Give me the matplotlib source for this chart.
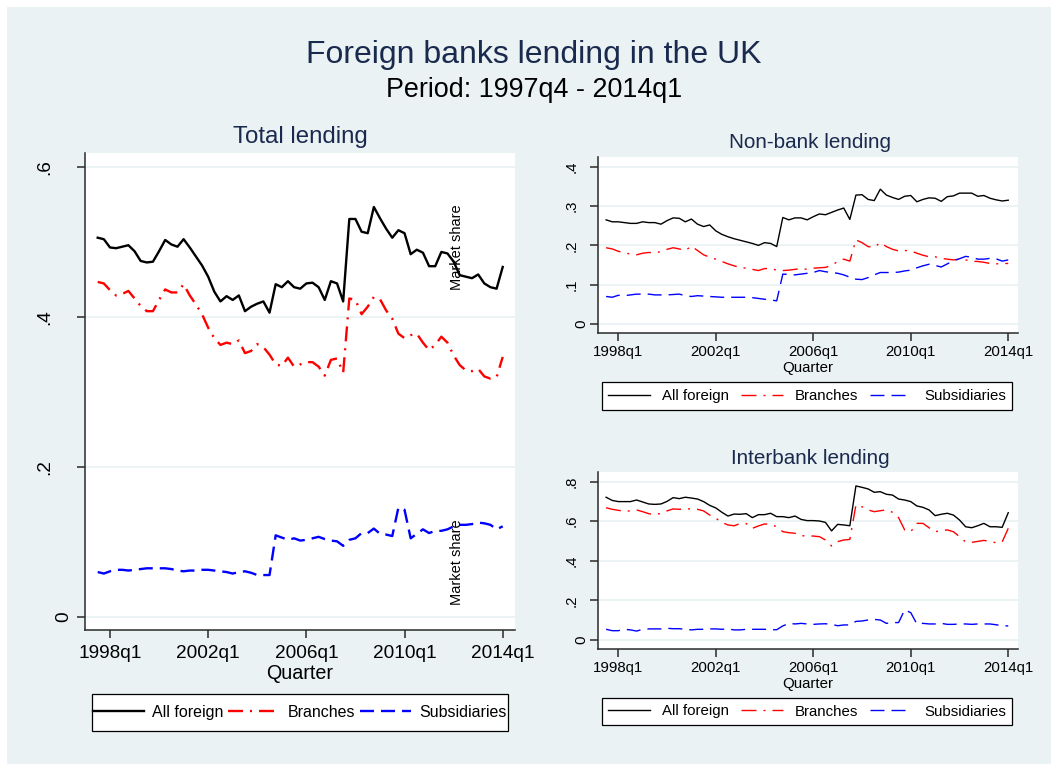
"""
Foreign banks lending in the UK: market shares of all foreign banks,
branches and subsidiaries (Stata-style graph combine layout).
"""

import matplotlib
matplotlib.use("Agg")
import matplotlib.pyplot as plt
import matplotlib.transforms as mtransforms
from matplotlib.lines import Line2D
from matplotlib.patches import Rectangle
import numpy as np

# quarters as Stata tq() numbers: 150 = 1997q3 ... 216 = 2014q1
quarter = np.arange(150, 217)
xtick_q = [152, 168, 184, 200, 216]
xtick_labels = ["1998q1", "2002q1", "2006q1", "2010q1", "2014q1"]

series_names = ["All foreign", "Branches", "Subsidiaries"]

total_all = [
    .506, .504, .493, .492, .494, .496, .488, .475, .473, .474,
    .488, .503, .497, .494, .504, .493, .481, .469, .454, .434,
    .421, .428, .423, .429, .408, .414, .418, .421, .406, .444,
    .440, .448, .440, .438, .445, .446, .440, .423, .448, .445,
    .421, .531, .531, .514, .512, .547, .532, .518, .506, .516,
    .512, .484, .490, .486, .468, .468, .487, .485, .474, .456,
    .454, .452, .457, .445, .440, .438, .467]
total_branch = [
    .447, .445, .436, .429, .431, .435, .425, .415, .408, .408,
    .423, .437, .433, .433, .444, .429, .417, .404, .386, .372,
    .363, .366, .364, .369, .352, .355, .364, .360, .350, .337,
    .335, .346, .334, .337, .340, .340, .334, .322, .343, .345,
    .326, .425, .423, .404, .414, .427, .424, .409, .398, .378,
    .372, .376, .378, .366, .356, .363, .374, .366, .349, .336,
    .329, .328, .331, .321, .318, .320, .347]
total_subs = [
    .060, .058, .061, .063, .063, .062, .063, .064, .065, .065,
    .065, .065, .064, .062, .061, .062, .062, .063, .063, .062,
    .061, .060, .058, .060, .061, .059, .056, .056, .056, .109,
    .106, .103, .105, .102, .103, .105, .107, .104, .102, .101,
    .095, .103, .105, .112, .112, .118, .111, .110, .108, .146,
    .143, .105, .111, .117, .112, .115, .115, .117, .121, .123,
    .123, .124, .126, .125, .123, .117, .121]

nonbank_all = [
    .265, .260, .260, .258, .256, .256, .260, .258, .258, .254,
    .263, .270, .269, .260, .267, .254, .248, .252, .237, .228,
    .222, .217, .213, .209, .205, .200, .207, .205, .197, .271,
    .265, .270, .270, .265, .273, .280, .278, .284, .290, .295,
    .266, .328, .329, .317, .314, .343, .328, .322, .317, .325,
    .327, .311, .317, .321, .320, .312, .324, .326, .333, .333,
    .333, .325, .327, .320, .316, .313, .315]
nonbank_branch = [
    .194, .191, .185, .181, .178, .176, .180, .182, .181, .184,
    .190, .194, .191, .187, .198, .187, .176, .170, .165, .159,
    .153, .148, .144, .142, .139, .136, .141, .141, .137, .136,
    .137, .139, .141, .139, .142, .143, .144, .149, .159, .165,
    .160, .214, .207, .197, .195, .207, .197, .190, .186, .187,
    .186, .180, .175, .171, .171, .167, .165, .163, .165, .163,
    .160, .159, .157, .154, .153, .154, .154]
nonbank_subs = [
    .070, .068, .073, .072, .074, .076, .076, .076, .074, .074,
    .074, .075, .076, .072, .070, .072, .071, .070, .069, .068,
    .068, .068, .068, .068, .067, .065, .063, .061, .059, .127,
    .126, .125, .127, .129, .131, .136, .133, .131, .129, .125,
    .119, .114, .113, .118, .125, .131, .131, .131, .132, .135,
    .137, .143, .148, .152, .149, .145, .153, .161, .166, .172,
    .170, .165, .165, .167, .166, .160, .163]

interbank_all = [
    .721, .705, .699, .699, .699, .707, .697, .687, .685, .687,
    .700, .719, .714, .721, .717, .712, .699, .680, .667, .645,
    .626, .636, .635, .638, .618, .633, .633, .640, .623, .623,
    .618, .626, .609, .603, .603, .601, .594, .551, .584, .581,
    .577, .778, .771, .763, .746, .749, .736, .732, .712, .707,
    .699, .677, .670, .657, .628, .635, .640, .631, .606, .572,
    .567, .577, .589, .572, .572, .569, .643]
interbank_branch = [
    .668, .660, .655, .650, .652, .657, .648, .638, .633, .640,
    .652, .662, .660, .662, .662, .660, .652, .631, .615, .594,
    .581, .577, .588, .588, .564, .576, .586, .584, .572, .547,
    .542, .539, .527, .525, .525, .522, .505, .475, .497, .505,
    .508, .682, .673, .657, .648, .653, .657, .645, .618, .556,
    .547, .589, .589, .567, .547, .552, .556, .547, .522, .495,
    .493, .498, .503, .498, .491, .495, .564]
interbank_subs = [
    .054, .047, .047, .054, .051, .045, .054, .056, .056, .056,
    .059, .057, .057, .054, .051, .054, .054, .056, .056, .054,
    .056, .051, .051, .054, .054, .054, .054, .052, .052, .071,
    .084, .081, .084, .081, .079, .081, .082, .079, .072, .076,
    .076, .094, .096, .101, .104, .101, .084, .088, .088, .152,
    .138, .081, .084, .081, .081, .084, .079, .079, .081, .081,
    .079, .081, .081, .081, .077, .072, .071]

total_yticks = [0, .2, .4, .6]
total_ylabels = ["0", ".2", ".4", ".6"]
nonbank_yticks = [0, .1, .2, .3, .4]
nonbank_ylabels = ["0", ".1", ".2", ".3", ".4"]
interbank_yticks = [0, .2, .4, .6, .8]
interbank_ylabels = ["0", ".2", ".4", ".6", ".8"]

BG = "#EAF2F3"
NAVY = "#1A2A4F"
AXC = "#2A2A2A"
PX = 0.72  # points per pixel at dpi 100

STYLES = [
    dict(color="black", linestyle="-"),
    dict(color="red", dashes=(15 * PX, 7 * PX, 2 * PX, 7 * PX)),
    dict(color="blue", dashes=(14 * PX, 7 * PX)),
]


def W(px):
    return px / 1058


def H(px):
    return 1 - px / 771


def draw_panel(fig, rect, series, yticks, ylabels, ylim, xlim, lw, fs,
               qfs, tick_pad, qpad, ylab_off):
    l, t, r, b = rect
    ax = fig.add_axes([W(l), H(b), W(r) - W(l), H(t) - H(b)], zorder=2)
    ax.set_facecolor("white")
    for s in ["top", "right"]:
        ax.spines[s].set_visible(False)
    for s in ["left", "bottom"]:
        ax.spines[s].set_color(AXC)
        ax.spines[s].set_linewidth(1.1)

    for vals, st in zip(series, STYLES):
        ax.plot(quarter, vals, lw=lw, **st)

    ax.set_xlim(*xlim)
    ax.set_ylim(*ylim)
    ax.set_yticks(yticks)
    ax.set_yticklabels([])
    ax.yaxis.grid(True, color=BG, lw=1.3)
    ax.set_axisbelow(True)
    ax.tick_params(axis="y", length=8 * PX, width=1.1, color=AXC)
    ax.set_xticks(xtick_q)
    ax.set_xticklabels(xtick_labels, fontsize=fs)
    ax.tick_params(axis="x", length=8 * PX, width=1.1, color=AXC,
                   pad=tick_pad)
    ax.set_xlabel("Quarter", fontsize=qfs, labelpad=qpad)

    # Stata rotated y labels: the longer labels sit further from the axis
    for v, lab in zip(yticks, ylabels):
        off = ylab_off[0] if len(lab) == 1 else ylab_off[1]
        tr = ax.get_yaxis_transform() + mtransforms.ScaledTranslation(
            -off * PX / 72, 0, fig.dpi_scale_trans)
        ax.text(0, v, lab, transform=tr, rotation=90, ha="center",
                va="center", fontsize=fs, clip_on=False)
    return ax


def draw_legend(fig, box, lw, fs, handlelen, textpad, colspace):
    l, t, r, b = box
    fig.patches.append(Rectangle((W(l), H(b)), W(r) - W(l), H(t) - H(b),
                                 transform=fig.transFigure, facecolor="white",
                                 edgecolor="black", lw=0.9, zorder=1))
    handles = [Line2D([], [], lw=lw, **st) for st in STYLES]
    leg = fig.legend(handles, series_names, loc="center",
                     bbox_to_anchor=(W((l + r) / 2), H((t + b) / 2)),
                     ncol=3, frameon=False, fontsize=fs,
                     handlelength=handlelen, handletextpad=textpad,
                     columnspacing=colspace, borderpad=0, borderaxespad=0)
    leg.set_zorder(3)


def main():
    plt.rcParams["font.family"] = ["Liberation Sans", "DejaVu Sans"]
    plt.rcParams["lines.scale_dashes"] = False

    fig = plt.figure(figsize=(10.58, 7.71), dpi=100)
    fig.patch.set_facecolor("white")
    fig.patches.append(Rectangle((W(7), H(764)), W(1051) - W(7),
                                 H(7) - H(764), transform=fig.transFigure,
                                 facecolor=BG, edgecolor="none", zorder=-10))

    fig.text(W(534), H(55), "Foreign banks lending in the UK", ha="center",
             va="center", fontsize=23, color=NAVY)
    fig.text(W(534), H(90), "Period: 1997q4 - 2014q1", ha="center",
             va="center", fontsize=19.4, color="black")

    # left: total lending
    ax = draw_panel(fig, (85, 153, 515, 630),
                    [total_all, total_branch, total_subs],
                    total_yticks, total_ylabels, (-0.0173, 0.619),
                    (147.93, 218.0), lw=1.7, fs=13.7, qfs=14.2,
                    tick_pad=5.0, qpad=1.2, ylab_off=(21, 40))
    fig.text(W(300), H(137), "Total lending", ha="center", va="center",
             fontsize=17.3, color=NAVY)
    for yy in (0.803, 0.1426):
        ax.text(0.865, yy, "Market share", transform=ax.transAxes,
                rotation=90, ha="center", va="center", fontsize=10.5)
    draw_legend(fig, (91.7, 694, 507.7, 730.7), lw=1.7, fs=11.5,
                handlelen=3.2, textpad=0.5, colspace=0.3)

    # right top: non-bank lending
    draw_panel(fig, (597.7, 156.7, 1018, 333.3),
               [nonbank_all, nonbank_branch, nonbank_subs],
               nonbank_yticks, nonbank_ylabels, (-0.0237, 0.4257),
               (148.62, 217.6), lw=1.0, fs=10.8, qfs=10.8,
               tick_pad=3.0, qpad=0.8, ylab_off=(16, 26))
    fig.text(W(810), H(143), "Non-bank lending", ha="center", va="center",
             fontsize=14.9, color=NAVY)
    draw_legend(fig, (602, 382, 1012, 410), lw=1.0, fs=10.8,
                handlelen=2.8, textpad=0.8, colspace=0.8)

    # right bottom: interbank lending
    draw_panel(fig, (597.7, 471.7, 1018, 649.3),
               [interbank_all, interbank_branch, interbank_subs],
               interbank_yticks, interbank_ylabels, (-0.047, 0.850),
               (148.62, 217.6), lw=1.0, fs=10.8, qfs=10.8,
               tick_pad=3.0, qpad=0.8, ylab_off=(16, 26))
    fig.text(W(810), H(459), "Interbank lending", ha="center", va="center",
             fontsize=14.9, color=NAVY)
    draw_legend(fig, (602, 698, 1012, 725), lw=1.0, fs=10.8,
                handlelen=2.8, textpad=0.8, colspace=0.8)

    fig.savefig("out.png", dpi=100, facecolor=fig.get_facecolor())
    plt.close(fig)


if __name__ == "__main__":
    main()
